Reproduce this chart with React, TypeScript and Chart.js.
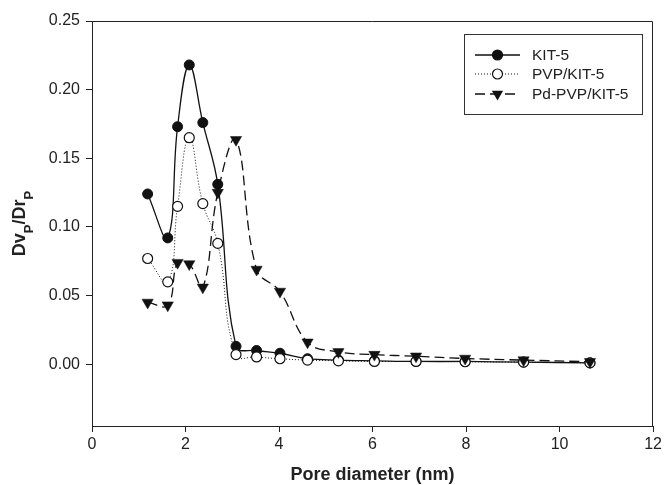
import React, { useEffect, useRef } from "react";
import { Chart, registerables } from "chart.js";

Chart.register(...registerables);

const poreDiameter = [1.19, 1.62, 1.83, 2.08, 2.37, 2.69, 3.08, 3.52, 4.02, 4.61, 5.27, 6.04, 6.93, 7.98, 9.23, 10.65];
const kit5 = [0.124, 0.092, 0.173, 0.218, 0.176, 0.131, 0.013, 0.01, 0.008, 0.004, 0.003, 0.0025, 0.002, 0.002, 0.0015, 0.001];
const pvpKit5 = [0.077, 0.06, 0.115, 0.165, 0.117, 0.088, 0.007, 0.0053, 0.004, 0.003, 0.0025, 0.002, 0.002, 0.0018, 0.0015, 0.001];
const pdPvpKit5 = [0.045, 0.043, 0.074, 0.073, 0.056, 0.125, 0.1635, 0.069, 0.053, 0.016, 0.009, 0.007, 0.0058, 0.0042, 0.003, 0.0018];
const seriesNames = ["KIT-5", "PVP/KIT-5", "Pd-PVP/KIT-5"];
const xTicks = [0, 2, 4, 6, 8, 10, 12];
const yTicks = [0, 0.05, 0.1, 0.15, 0.2, 0.25];
const xTitle = "Pore diameter (nm)";
const yTitleParts = [
  { t: "Dv", sub: false },
  { t: "P", sub: true },
  { t: "/Dr", sub: false },
  { t: "P", sub: true },
];

const FONT = '"Liberation Sans", Arial, Helvetica, sans-serif';
const INK = "#222";

const toPts = (ys: number[]) => ys.map((y, i) => ({ x: poreDiameter[i], y }));

const decorPlugin = {
  id: "decor",
  afterDraw(chart: any) {
    const ctx = chart.ctx as CanvasRenderingContext2D;
    const a = chart.chartArea;
    ctx.save();
    ctx.strokeStyle = INK;
    ctx.lineWidth = 1;
    ctx.beginPath();
    ctx.moveTo(Math.round(a.left) + 0.5, Math.round(a.top) + 0.5);
    ctx.lineTo(Math.round(a.right) - 0.5, Math.round(a.top) + 0.5);
    ctx.lineTo(Math.round(a.right) - 0.5, Math.round(a.bottom) + 0.5);
    ctx.stroke();

    ctx.fillStyle = INK;
    ctx.font = `bold 18px ${FONT}`;
    ctx.textAlign = "center";
    ctx.textBaseline = "alphabetic";
    ctx.fillText(xTitle, (a.left + a.right) / 2, 480);

    const mainFont = `bold 18px ${FONT}`;
    const subFont = `bold 13px ${FONT}`;
    let total = 0;
    const widths = yTitleParts.map((p) => {
      ctx.font = p.sub ? subFont : mainFont;
      const w = ctx.measureText(p.t).width;
      total += w;
      return w;
    });
    ctx.translate(25, (a.top + a.bottom) / 2);
    ctx.rotate(-Math.PI / 2);
    ctx.textAlign = "left";
    let cx = -total / 2;
    yTitleParts.forEach((p, i) => {
      ctx.font = p.sub ? subFont : mainFont;
      ctx.fillText(p.t, cx, p.sub ? 8 : 0);
      cx += widths[i];
    });
    ctx.restore();

    ctx.save();
    ctx.strokeStyle = "#333";
    ctx.lineWidth = 1;
    ctx.strokeRect(464.5, 34.5, 178, 80);
    const rows = [55, 74, 94];
    const dashes = [[], [1, 2], [10, 5]];
    rows.forEach((ry, i) => {
      ctx.strokeStyle = "#111";
      ctx.lineWidth = i === 1 ? 1 : 1.3;
      ctx.setLineDash(dashes[i]);
      ctx.beginPath();
      ctx.moveTo(475, ry);
      ctx.lineTo(520, ry);
      ctx.stroke();
      ctx.setLineDash([]);
      const mx = 497.5;
      ctx.beginPath();
      if (i === 2) {
        const r = 6.5;
        ctx.moveTo(mx, ry + r);
        ctx.lineTo(mx - r * Math.sin(Math.PI / 3), ry - r / 2);
        ctx.lineTo(mx + r * Math.sin(Math.PI / 3), ry - r / 2);
        ctx.closePath();
        ctx.fillStyle = "#111";
        ctx.fill();
      } else {
        ctx.arc(mx, ry, 5, 0, Math.PI * 2);
        ctx.fillStyle = i === 0 ? "#111" : "#fff";
        ctx.fill();
        ctx.lineWidth = 1.2;
        ctx.stroke();
      }
      ctx.fillStyle = INK;
      ctx.font = `15.5px ${FONT}`;
      ctx.textAlign = "left";
      ctx.textBaseline = "middle";
      ctx.fillText(seriesNames[i], 532, ry + 0.5);
    });
    ctx.restore();
  },
};

export default function App() {
  const ref = useRef<HTMLCanvasElement | null>(null);
  useEffect(() => {
    if (!ref.current) return;
    const tickFont = { family: FONT, size: 16 };
    const chart = new Chart(ref.current, {
      type: "line",
      data: {
        datasets: [
          {
            label: seriesNames[0],
            data: toPts(kit5),
            borderColor: "#111",
            borderWidth: 1.3,
            backgroundColor: "#111",
            pointStyle: "circle",
            pointRadius: 5,
            pointBackgroundColor: "#111",
            pointBorderColor: "#111",
            pointBorderWidth: 1,
            tension: 0.4,
            order: 3,
          },
          {
            label: seriesNames[1],
            data: toPts(pvpKit5),
            borderColor: "#111",
            borderWidth: 1,
            borderDash: [1, 2],
            pointStyle: "circle",
            pointRadius: 5,
            pointBackgroundColor: "#fff",
            pointBorderColor: "#111",
            pointBorderWidth: 1.2,
            tension: 0.45,
            order: 2,
          },
          {
            label: seriesNames[2],
            data: toPts(pdPvpKit5),
            borderColor: "#111",
            borderWidth: 1.3,
            borderDash: [10, 5],
            pointStyle: "triangle",
            pointRotation: 180,
            pointRadius: 6.5,
            pointBackgroundColor: "#111",
            pointBorderColor: "#111",
            pointBorderWidth: 0.5,
            tension: 0.4,
            order: 1,
          },
        ],
      },
      options: {
        animation: false,
        responsive: false,
        devicePixelRatio: 1,
        layout: { padding: { top: 21, right: 10, left: 0, bottom: 0 } },
        plugins: { legend: { display: false }, tooltip: { enabled: false } },
        scales: {
          x: {
            type: "linear",
            min: 0,
            max: 12,
            afterBuildTicks: (s: any) => {
              s.ticks = xTicks.map((v) => ({ value: v }));
            },
            afterFit: (s: any) => {
              s.height = 59;
            },
            ticks: {
              font: tickFont,
              color: INK,
              padding: 3,
              maxRotation: 0,
              autoSkip: false,
              callback: (v: any) => String(v),
            },
            grid: { drawOnChartArea: false, drawTicks: true, tickLength: 6, color: INK },
            border: { display: true, color: INK, width: 1 },
          },
          y: {
            type: "linear",
            min: -0.045,
            max: 0.25,
            afterBuildTicks: (s: any) => {
              s.ticks = yTicks.map((v) => ({ value: v }));
            },
            afterFit: (s: any) => {
              s.width = 92;
            },
            ticks: {
              font: tickFont,
              color: INK,
              padding: 6,
              autoSkip: false,
              callback: (v: any) => Number(v).toFixed(2),
            },
            grid: { drawOnChartArea: false, drawTicks: true, tickLength: 6, color: INK },
            border: { display: true, color: INK, width: 1 },
          },
        },
      },
      plugins: [decorPlugin],
    } as any);
    return () => chart.destroy();
  }, []);
  return (
    <div style={{ position: "absolute", left: 0, top: 0, width: 665, height: 485, background: "#fff" }}>
      <canvas ref={ref} width={665} height={485} style={{ display: "block" }} />
    </div>
  );
}
